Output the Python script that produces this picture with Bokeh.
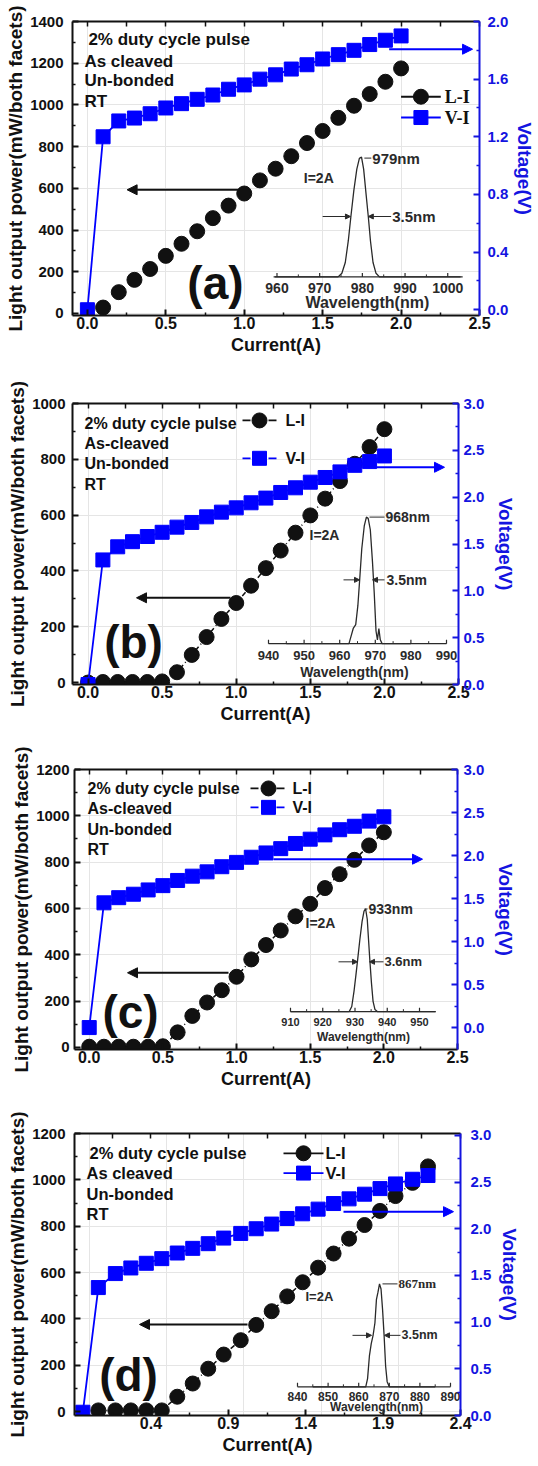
from bokeh.plotting import figure
from bokeh.models import (Range1d, LinearAxis, FixedTicker, Label, Arrow,
                          NormalHead, PrintfTickFormatter)
from bokeh.embed import file_html
from bokeh.resources import INLINE
from bokeh.core.properties import value

# ------------------------------------------------------------------ data
# (a)
vi_current_a = [0.0, 0.1, 0.2, 0.3, 0.4, 0.5, 0.6, 0.7, 0.8, 0.9, 1.0,
                1.1, 1.2, 1.3, 1.4, 1.5, 1.6, 1.7, 1.8, 1.9, 2.0]
voltage_a = [0.0, 1.20, 1.31, 1.33, 1.36, 1.40, 1.43, 1.46, 1.49, 1.53, 1.56,
             1.60, 1.63, 1.67, 1.70, 1.74, 1.77, 1.80, 1.84, 1.87, 1.90]
li_current_a = [0.1, 0.2, 0.3, 0.4, 0.5, 0.6, 0.7, 0.8, 0.9, 1.0,
                1.1, 1.2, 1.3, 1.4, 1.5, 1.6, 1.7, 1.8, 1.9, 2.0]
power_a = [28, 102, 161, 213, 276, 334, 394, 457, 517, 575,
           638, 694, 754, 817, 875, 938, 996, 1052, 1111, 1175]
spec_wl_a = [959.5, 974.3, 975.2, 976.0, 976.7, 977.3, 978.0, 978.7, 979.3,
             979.8, 980.3, 980.9, 981.4, 981.9, 982.5, 983.2, 984.0, 1003.0]
spec_int_a = [0, 0, 0.03, 0.12, 0.30, 0.50, 0.72, 0.90, 0.99,
              1.0, 0.90, 0.68, 0.50, 0.30, 0.12, 0.03, 0, 0]

# (b)
current_b = [0.0, 0.1, 0.2, 0.3, 0.4, 0.5, 0.6, 0.7, 0.8, 0.9, 1.0,
             1.1, 1.2, 1.3, 1.4, 1.5, 1.6, 1.7, 1.8, 1.9, 2.0]
power_b = [0, 2, 2, 2, 2, 4, 37, 99, 163, 228, 285,
           347, 410, 473, 537, 599, 659, 722, 784, 844, 908]
voltage_b = [0.0, 1.33, 1.47, 1.525, 1.58, 1.625, 1.68, 1.73, 1.79, 1.84, 1.886,
             1.94, 1.99, 2.05, 2.10, 2.16, 2.21, 2.27, 2.34, 2.38, 2.44]
spec_wl_b = [945, 962.6, 963.2, 963.8, 964.5, 965.1, 965.6, 966.2, 966.9, 967.5,
             968.0, 968.6, 969.2, 969.7, 970.2, 970.6, 971.0, 971.4, 971.9, 980]
spec_int_b = [0, 0, 0.06, 0.12, 0.15, 0.30, 0.50, 0.75, 0.93, 1.0,
              0.99, 0.90, 0.65, 0.40, 0.10, 0.03, 0.12, 0.03, 0, 0]

# (c)
current_c = [0.0, 0.1, 0.2, 0.3, 0.4, 0.5, 0.6, 0.7, 0.8, 0.9, 1.0,
             1.1, 1.2, 1.3, 1.4, 1.5, 1.6, 1.7, 1.8, 1.9, 2.0]
power_c = [3, 3, 3, 3, 3, 5, 65, 136, 194, 247, 305,
           380, 442, 505, 566, 620, 688, 748, 810, 872, 929]
voltage_c = [0.0, 1.45, 1.51, 1.55, 1.60, 1.65, 1.71, 1.76, 1.81, 1.87, 1.92,
             1.98, 2.03, 2.08, 2.14, 2.19, 2.24, 2.30, 2.34, 2.40, 2.45]
spec_wl_c = [910, 928.2, 929.0, 929.7, 930.3, 930.8, 931.5, 932.2, 932.8,
             933.3, 933.8, 934.2, 934.6, 935.1, 935.6, 936.2, 937.0, 955]
spec_int_c = [0, 0, 0.05, 0.20, 0.36, 0.50, 0.70, 0.88, 0.98,
              1.0, 0.90, 0.70, 0.50, 0.28, 0.10, 0.02, 0, 0]

# (d)
vi_current_d = [-0.04, 0.06, 0.17, 0.27, 0.37, 0.47, 0.57, 0.67, 0.77, 0.87, 0.98,
                1.08, 1.18, 1.28, 1.38, 1.48, 1.58, 1.68, 1.78, 1.88, 1.98, 2.09, 2.19]
voltage_d = [0.035, 1.37, 1.52, 1.58, 1.63, 1.68, 1.74, 1.79, 1.84, 1.90, 1.95,
             2.00, 2.05, 2.11, 2.16, 2.21, 2.27, 2.32, 2.37, 2.43, 2.48, 2.53, 2.57]
li_current_d = [0.06, 0.17, 0.27, 0.37, 0.47, 0.57, 0.67, 0.77, 0.87, 0.98,
                1.08, 1.18, 1.28, 1.38, 1.48, 1.58, 1.68, 1.78, 1.88, 1.98, 2.09, 2.19]
power_d = [5, 5, 5, 5, 5, 64, 121, 185, 246, 308,
           374, 433, 497, 558, 621, 682, 746, 805, 866, 930, 987, 1058]
spec_wl_d = [845, 862.3, 862.9, 863.5, 864.1, 864.7, 865.3, 865.8, 866.3,
             866.8, 867.3, 867.8, 868.3, 868.8, 869.3, 870.0, 885]
spec_int_d = [0, 0, 0.08, 0.30, 0.42, 0.50, 0.62, 0.85, 0.92,
              1.0, 0.95, 0.75, 0.50, 0.20, 0.05, 0, 0]

# ticks
x_ticks_abc = [0.0, 0.5, 1.0, 1.5, 2.0, 2.5]
x_minor_abc = [0.25, 0.75, 1.25, 1.75, 2.25]
x_ticks_d = [0.4, 0.9, 1.4, 1.9, 2.4]
x_minor_d = [0.15, 0.65, 1.15, 1.65, 2.15]
p_ticks_a = [0, 200, 400, 600, 800, 1000, 1200, 1400]
p_minor_a = [100, 300, 500, 700, 900, 1100, 1300]
p_ticks_b = [0, 200, 400, 600, 800, 1000]
p_minor_b = [100, 300, 500, 700, 900]
p_ticks_cd = [0, 200, 400, 600, 800, 1000, 1200]
p_minor_cd = [100, 300, 500, 700, 900, 1100]
v_ticks_a = [0.0, 0.4, 0.8, 1.2, 1.6, 2.0]
v_minor_a = [0.2, 0.6, 1.0, 1.4, 1.8]
v_ticks_bcd = [0.0, 0.5, 1.0, 1.5, 2.0, 2.5, 3.0]
v_minor_bcd = [0.25, 0.75, 1.25, 1.75, 2.25, 2.75]
wl_ticks_a = [960, 970, 980, 990, 1000]
wl_minor_a = [965, 975, 985, 995]
wl_ticks_b = [940, 950, 960, 970, 980, 990]
wl_minor_b = [945, 955, 965, 975, 985]
wl_ticks_c = [910, 920, 930, 940, 950]
wl_minor_c = [915, 925, 935, 945]
wl_ticks_d = [840, 850, 860, 870, 880, 890]
wl_minor_d = [845, 855, 865, 875, 885]

# ------------------------------------------------------------------ style
BLUE = "#0000ff"
AXBLUE = "#1414e0"
INK = "#111111"
SANS = "Liberation Sans"
SERIF = "Liberation Serif"

panels = [
    dict(name="(a)", h=365, bt=21, bb=50, bl=72, br=56,
         ref=(72, 482, 21, 318), xr=(-0.095, 2.5), ylr=(-10, 1400), yrr=(-0.04, 2.0),
         xt=(x_ticks_abc, x_minor_abc), pt=(p_ticks_a, p_minor_a), vt=(v_ticks_a, v_minor_a),
         vi=(vi_current_a, voltage_a), li=(li_current_a, power_a), li_line=False,
         l_std=9, r_std=8, r_lstd=3,
         texts=[("2% duty cycle pulse", 88, 39), ("As cleaved", 84, 61),
                ("Un-bonded", 84, 81), ("RT", 84, 102)], tsize="17px",
         tag=(216, 285), black=((240, 191), (127, 191)), blue=((391, 49), (475, 49)),
         leg=dict(font=SERIF, size="18px", y=(97, 118), lx=(403, 443), mx=423, tx=447, dash="solid"),
         ins=dict(wl=spec_wl_a, it=spec_int_a, x=((960, 278), (1000, 450)), y=(279, 158),
                  ext=(959.2, 1003.5), ticks=(wl_ticks_a, wl_minor_a), lab_y=290, lab_size="14px",
                  title=(369, 305), title_size="16px",
                  peak=("979nm", 374, 159, 366, SANS, "15px"), cur=(305, 179, "14px"),
                  fw=(218, (324, 352), (393, 370), "3.5nm", 394, "15px"))),
    dict(name="(b)", h=369, bt=38, bb=50, bl=72, br=80,
         ref=(72, 458, 408, 690), xr=(-0.105, 2.5), ylr=(-7, 1000), yrr=(0.0, 3.0),
         xt=(x_ticks_abc, x_minor_abc), pt=(p_ticks_b, p_minor_b), vt=(v_ticks_bcd, v_minor_bcd),
         vi=(current_b, voltage_b), li=(current_b, power_b), li_line=True,
         l_std=7, r_std=5, r_lstd=8,
         texts=[("2% duty cycle pulse", 84, 428), ("As-cleaved", 84, 448),
                ("Un-bonded", 84, 468), ("RT", 84, 489)], tsize="16px",
         tag=(133, 647), black=((230, 603), (136, 603)), blue=((374, 472), (444, 472)),
         leg=dict(font=SANS, size="16px", y=(425, 463), lx=(242, 276), mx=259, tx=285, dash="8 5"),
         ins=dict(wl=spec_wl_b, it=spec_int_b, x=((940, 268), (990, 446)), y=(649, 522),
                  ext=(940, 990), ticks=(wl_ticks_b, wl_minor_b), lab_y=661, lab_size="13px",
                  title=(354, 677), title_size="14px",
                  peak=("968nm", 385, 522, 369, SANS, "14px"), cur=(309, 540, "14px"),
                  fw=(585, (343, 359), (384, 372), "3.5nm", 386, "14px"))),
    dict(name="(c)", h=365, bt=35, bb=50, bl=74, br=81,
         ref=(74, 457, 774, 1055), xr=(-0.10, 2.5), ylr=(-9, 1200), yrr=(-0.255, 3.0),
         xt=(x_ticks_abc, x_minor_abc), pt=(p_ticks_cd, p_minor_cd), vt=(v_ticks_bcd, v_minor_bcd),
         vi=(current_c, voltage_c), li=(current_c, power_c), li_line=True,
         l_std=5, r_std=6, r_lstd=8,
         texts=[("2% duty cycle pulse", 87, 793), ("As-cleaved", 87, 813),
                ("Un-bonded", 87, 834), ("RT", 87, 854)], tsize="16px",
         tag=(130, 1017), black=((228, 978), (127, 978)), blue=((273, 864), (422, 864)),
         leg=dict(font=SANS, size="16px", y=(793, 812), lx=(250, 286), mx=268, tx=292, dash="8 5"),
         ins=dict(wl=spec_wl_c, it=spec_int_c, x=((910, 290), (950, 419)), y=(1017, 914),
                  ext=(910, 955), ticks=(wl_ticks_c, wl_minor_c), lab_y=1027, lab_size="11px",
                  title=(363, 1042), title_size="12px",
                  peak=("933nm", 368, 914, 364, SANS, "14px"), cur=(305, 928, "14px"),
                  fw=(967, (338, 357), (383, 369), "3.6nm", 384, "13px"))),
    dict(name="(d)", h=366, bt=34, bb=50, bl=74, br=78,
         ref=(74, 460, 1137, 1422), xr=(-0.094, 2.4), ylr=(-17, 1200), yrr=(0.0, 3.02),
         xt=(x_ticks_d, x_minor_d), pt=(p_ticks_cd, p_minor_cd), vt=(v_ticks_bcd, v_minor_bcd),
         vi=(vi_current_d, voltage_d), li=(li_current_d, power_d), li_line=True,
         l_std=9, r_std=10, r_lstd=5,
         texts=[("2% duty cycle pulse", 89, 1157), ("As cleaved", 86, 1177),
                ("Un-bonded", 86, 1198), ("RT", 86, 1218)], tsize="16.5px",
         tag=(128, 1381), black=((247, 1330), (139, 1330)), blue=((343, 1216), (453, 1216)),
         leg=dict(font=SANS, size="16.5px", y=(1157, 1177), lx=(283, 323), mx=303, tx=325, dash="solid"),
         ins=dict(wl=spec_wl_d, it=spec_int_d, x=((840, 297), (890, 450)), y=(1393, 1289),
                  ext=(840, 890), ticks=(wl_ticks_d, wl_minor_d), lab_y=1403, lab_size="12px",
                  title=(376, 1413), title_size="12px",
                  peak=("867nm", 398, 1289, 382, SERIF, "13px"), cur=(305, 1302, "13px"),
                  fw=(1341, (352, 371), (400, 384), "3.5nm", 401, "12.5px"))),
]


def style_axis(ax, color, size):
    ax.axis_line_color = color
    ax.axis_line_width = 2
    ax.major_tick_line_color = color
    ax.major_tick_line_width = 2
    ax.minor_tick_line_color = color
    ax.minor_tick_line_width = 1.5
    ax.major_tick_in = 6
    ax.major_tick_out = 0
    ax.minor_tick_in = 3
    ax.minor_tick_out = 0
    ax.major_label_text_font = SANS
    ax.major_label_text_font_style = "bold"
    ax.major_label_text_font_size = size
    ax.major_label_text_color = color
    ax.axis_label_text_font = SANS
    ax.axis_label_text_font_style = "bold"
    ax.axis_label_text_color = color


def label(p, x, y, text, size, font=SANS, color=INK, align="left"):
    p.add_layout(Label(x=x, y=y, text=text, text_font=font, text_font_style="bold",
                       text_font_size=size, text_color=color, text_align=align,
                       text_baseline="middle"))


def build(c):
    fl, fr, ft, fb = c["ref"]
    x0, x1 = c["xr"]
    a0, a1 = c["ylr"]
    v0, v1 = c["yrr"]

    def X(px):
        return x0 + (px - fl) / (fr - fl) * (x1 - x0)

    def Y(py):
        return a0 + (fb - py) / (fb - ft) * (a1 - a0)

    ins = c["ins"]
    (w_lo, p_lo), (w_hi, p_hi) = ins["x"]
    yb, yp = ins["y"]
    k = (w_hi - w_lo) / (p_hi - p_lo)
    s = 1.0 / (yb - yp)

    def S(py):
        return (yb - py) * s

    p = figure(width=538, height=c["h"], x_range=Range1d(x0, x1), y_range=Range1d(a0, a1),
               output_backend="svg", toolbar_location=None,
               x_axis_location=None, y_axis_location=None,
               min_border_left=c["bl"], min_border_right=c["br"],
               min_border_top=c["bt"], min_border_bottom=c["bb"])
    p.outline_line_color = None
    p.background_fill_color = "white"
    p.border_fill_color = "white"
    p.extra_y_ranges = {"v": Range1d(v0, v1), "sp": Range1d(-(fb - yb) * s, (yb - ft) * s)}
    p.extra_x_ranges = {"wl": Range1d(w_lo - (p_lo - fl) * k, w_hi + (fr - p_hi) * k)}

    # axes
    bottom = LinearAxis(ticker=FixedTicker(ticks=c["xt"][0], minor_ticks=c["xt"][1]),
                        formatter=PrintfTickFormatter(format="%.1f"), axis_label="Current(A)")
    style_axis(bottom, INK, "16px")
    bottom.axis_label_text_font_size = "18px"
    bottom.major_label_standoff = 1
    bottom.axis_label_standoff = 3
    p.add_layout(bottom, "below")

    # top frame edge: ticks only, no labels
    top = LinearAxis(ticker=FixedTicker(ticks=[], minor_ticks=c["xt"][0] + c["xt"][1]))
    style_axis(top, INK, "15px")
    top.minor_tick_in = 5
    top.major_label_standoff = 0
    p.add_layout(top, "above")

    left = LinearAxis(ticker=FixedTicker(ticks=c["pt"][0], minor_ticks=c["pt"][1]),
                      formatter=PrintfTickFormatter(format="%d"),
                      axis_label="Light output power(mW/both facets)")
    style_axis(left, INK, "15px")
    left.axis_label_text_font_size = "19px"
    left.major_label_standoff = c["l_std"]
    left.axis_label_standoff = 1
    p.add_layout(left, "left")

    right = LinearAxis(y_range_name="v", ticker=FixedTicker(ticks=c["vt"][0], minor_ticks=c["vt"][1]),
                       formatter=PrintfTickFormatter(format="%.1f"), axis_label="Voltage(V)")
    style_axis(right, AXBLUE, "15px")
    right.axis_label_text_font_size = "19px"
    right.major_label_standoff = c["r_std"]
    right.axis_label_standoff = c["r_lstd"]
    p.add_layout(right, "right")

    # data: L-I then V-I
    lx, ly = c["li"]
    if c["li_line"]:
        p.line(lx, ly, line_color=INK, line_width=1.5, line_dash="5 3 1 3")
    p.scatter(lx, ly, marker="circle", size=15, fill_color=INK, line_color=INK)
    vx, vy = c["vi"]
    p.line(vx, vy, y_range_name="v", line_color=BLUE, line_width=1.8)
    p.scatter(vx, vy, y_range_name="v", marker="square", size=14, fill_color=BLUE, line_color=BLUE)

    # text block
    for t, tx, ty in c["texts"]:
        label(p, X(tx), Y(ty), t, c["tsize"])
    label(p, X(c["tag"][0]), Y(c["tag"][1]), c["name"], "46px", align="center")

    # arrows
    (sx, sy), (ex, ey) = c["black"]
    p.add_layout(Arrow(end=NormalHead(size=10, fill_color=INK, line_color=INK),
                       x_start=X(sx), y_start=Y(sy), x_end=X(ex), y_end=Y(ey),
                       line_color=INK, line_width=2))
    (sx, sy), (ex, ey) = c["blue"]
    p.add_layout(Arrow(end=NormalHead(size=10, fill_color=BLUE, line_color=BLUE),
                       x_start=X(sx), y_start=Y(sy), x_end=X(ex), y_end=Y(ey),
                       line_color=BLUE, line_width=2))

    # legend
    lg = c["leg"]
    for (name, col, mk, msz), yy in zip([("L-I", INK, "circle", 15), ("V-I", BLUE, "square", 14)], lg["y"]):
        p.line([X(lg["lx"][0]), X(lg["lx"][1])], [Y(yy), Y(yy)], line_color=col,
               line_width=1.8, line_dash=lg["dash"])
        p.scatter([X(lg["mx"])], [Y(yy)], marker=mk, size=msz, fill_color=col, line_color=col)
        label(p, X(lg["tx"]), Y(yy), name, lg["size"], font=lg["font"])

    # inset spectrum
    GR = "#2a2a2a"
    p.line(ins["ext"], [0, 0], x_range_name="wl", y_range_name="sp", line_color=GR, line_width=1.2)
    mj, mn = ins["ticks"]
    p.segment(x0=mj, y0=[0] * len(mj), x1=mj, y1=[S(yb - 4)] * len(mj),
              x_range_name="wl", y_range_name="sp", line_color=GR, line_width=1.2)
    p.segment(x0=mn, y0=[0] * len(mn), x1=mn, y1=[S(yb - 2.5)] * len(mn),
              x_range_name="wl", y_range_name="sp", line_color=GR, line_width=1)
    p.line(ins["wl"], ins["it"], x_range_name="wl", y_range_name="sp", line_color=GR, line_width=1.3)
    p.text(x=mj, y=[S(ins["lab_y"])] * len(mj), text=[str(t) for t in mj],
           x_range_name="wl", y_range_name="sp", text_align="center", text_baseline="middle",
           text_font=value(SANS), text_font_style="bold", text_font_size=ins["lab_size"], text_color=GR)
    label(p, X(ins["title"][0]), Y(ins["title"][1]), "Wavelength(nm)", ins["title_size"],
          color=GR, align="center")
    ptxt, ptx, pty, pcx, pfont, psz = ins["peak"]
    p.add_layout(Arrow(end=None, x_start=X(pcx), y_start=Y(pty), x_end=X(ptx - 1), y_end=Y(pty),
                       line_color=GR, line_width=1))
    label(p, X(ptx), Y(pty), ptxt, psz, font=pfont, color=GR)
    label(p, X(ins["cur"][0]), Y(ins["cur"][1]), "I=2A", ins["cur"][2], color=GR)
    fy, (l0, l1), (r0, r1), ftxt, ftx, fsz = ins["fw"]
    for a, b in ((l0, l1), (r0, r1)):
        p.add_layout(Arrow(end=NormalHead(size=5, fill_color=GR, line_color=GR),
                           x_start=X(a), y_start=Y(fy), x_end=X(b), y_end=Y(fy),
                           line_color=GR, line_width=1))
    label(p, X(ftx), Y(fy), ftxt, fsz, color=GR)
    return p


figs = [build(c) for c in panels]
open("out.html", "w").write(file_html(figs, INLINE))
